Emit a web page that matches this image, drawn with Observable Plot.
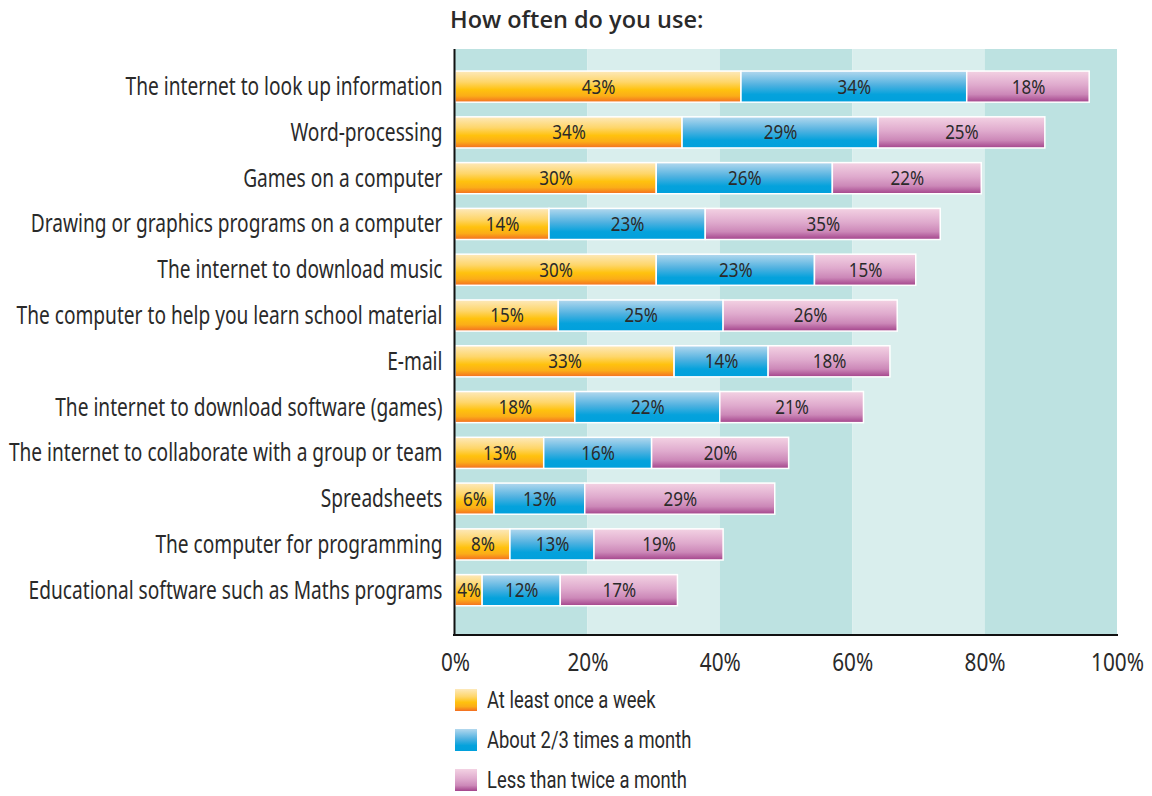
<!DOCTYPE html>
<html>
<head>
<meta charset="utf-8">
<script src="https://cdn.jsdelivr.net/npm/d3@7"></script>
<script src="https://cdn.jsdelivr.net/npm/@observablehq/plot@0.6"></script>
<style>
  body { margin: 0; background: #fff; width: 1152px; height: 796px; overflow: hidden; position: relative; }
  .cond { font-family: Roboto, "Liberation Sans", sans-serif; }
  #title { position: absolute; left: 450px; top: 3px; font-family: "Open Sans", "Noto Sans", sans-serif; font-weight: 600; font-size: 23.5px; color: #2a2a2a; }
  #chart { position: absolute; left: 0; top: 44px; }
  #legend { position: absolute; left: 455px; top: 689px; font-size: 23px; color: #2a2a2a; }
  .item { display: flex; align-items: center; height: 22px; margin-bottom: 18px; }
  .sw { width: 22px; height: 22px; margin-right: 10px; flex: none; }
  .item span { display: inline-block; transform: scaleX(0.8); transform-origin: left center; white-space: nowrap; }
</style>
</head>
<body>
<div id="title">How often do you use:</div>
<div id="chart" class="cond"></div>
<div id="legend" class="cond"></div>
<script>
const categories = [
  "The internet to look up information",
  "Word-processing",
  "Games on a computer",
  "Drawing or graphics programs on a computer",
  "The internet to download music",
  "The computer to help you learn school material",
  "E-mail",
  "The internet to download software (games)",
  "The internet to collaborate with a group or team",
  "Spreadsheets",
  "The computer for programming",
  "Educational software such as Maths programs"
];
const seriesNames = ["At least once a week", "About 2/3 times a month", "Less than twice a month"];
const weekly  = [43.2, 34.3, 30.4, 14.2, 30.4, 15.6, 33.1, 18.1, 13.4, 5.9, 8.3, 4.1];
const monthly = [34.1, 29.6, 26.6, 23.6, 23.9, 24.9, 14.2, 21.9, 16.3, 13.7, 12.7, 11.8];
const rarely  = [18.5, 25.2, 22.5, 35.5, 15.3, 26.3, 18.4, 21.7, 20.7, 28.7, 19.5, 17.7];
const weeklyLabels  = ["43%","34%","30%","14%","30%","15%","33%","18%","13%","6%","8%","4%"];
const monthlyLabels = ["34%","29%","26%","23%","23%","25%","14%","22%","16%","13%","13%","12%"];
const rarelyLabels  = ["18%","25%","22%","35%","15%","26%","18%","21%","20%","29%","19%","17%"];
const xTicks = [0, 20, 40, 60, 80, 100];

const gradIds = ["gWeek", "gMonth", "gRare"];
const gradStops = [
  [[0, "#fde9bb"], [0.35, "#fed66a"], [0.6, "#ffc20e"], [0.8, "#fbad18"], [1, "#f36d21"]],
  [[0, "#b3d8ee"], [0.45, "#4fb1e0"], [0.75, "#05a2dc"], [1, "#00a0dc"]],
  [[0, "#f3d2e3"], [0.45, "#dfaacd"], [0.75, "#cc88b8"], [1, "#a3438b"]]
];
const bandFills = ["#bde2e1", "#d9eeed"];

const series = [weekly, monthly, rarely];
const labels = [weeklyLabels, monthlyLabels, rarelyLabels];
const table = [];
categories.forEach((c, i) => {
  seriesNames.forEach((s, k) => {
    table.push({category: c, series: s, value: series[k][i], label: labels[k][i]});
  });
});
const bands = xTicks.slice(0, -1).map((t, i) => ({x1: t, x2: xTicks[i + 1], fill: bandFills[i % 2]}));

const plot = Plot.plot({
  width: 1152,
  height: 640,
  marginTop: 5,
  marginBottom: 49,
  marginLeft: 455,
  marginRight: 35,
  style: {fontSize: "25px", color: "#2a2a2a", background: "transparent"},
  x: {domain: [0, 100], ticks: xTicks, tickFormat: d => d + "%", tickSize: 0, tickPadding: 18, label: null},
  y: {domain: categories, round: false, paddingInner: 0.32, paddingOuter: 0.56, align: 0.43, tickSize: 0, tickPadding: 13, label: null},
  color: {type: "ordinal", domain: seriesNames, range: gradIds.map(id => `url(#${id})`)},
  marks: [
    Plot.rect(bands, {x1: "x1", x2: "x2", fill: "fill"}),
    Plot.barX(table, Plot.stackX({x: "value", y: "category", fill: "series", stroke: "white", strokeWidth: 1.5})),
    Plot.text(table, Plot.stackX({x: "value", y: "category", text: "label", fill: "#2a2a2a", fontSize: 20})),
    Plot.ruleX([0], {stroke: "#111", strokeWidth: 2, dx: -1}),
    (index, scales, values, dimensions) => {
      const {width, height, marginLeft, marginRight, marginBottom} = dimensions;
      return d3.create("svg:line")
        .attr("x1", marginLeft - 2).attr("x2", width - marginRight + 1)
        .attr("y1", height - marginBottom).attr("y2", height - marginBottom)
        .attr("stroke", "#111").attr("stroke-width", 2).node();
    }
  ]
});

const defs = d3.select(plot).insert("defs", ":first-child");
gradIds.forEach((id, k) => {
  const g = defs.append("linearGradient").attr("id", id).attr("x1", 0).attr("y1", 0).attr("x2", 0).attr("y2", 1);
  gradStops[k].forEach(([o, c]) => g.append("stop").attr("offset", o).attr("stop-color", c));
});
document.getElementById("chart").appendChild(plot);

// condensed look: squeeze glyphs horizontally
function condense(sel, factor) {
  sel.each(function () {
    const w = this.getComputedTextLength();
    if (w > 0) {
      this.setAttribute("textLength", (w * factor).toFixed(1));
      this.setAttribute("lengthAdjust", "spacingAndGlyphs");
    }
  });
}
const svg = d3.select(plot);
condense(svg.selectAll('g[aria-label="y-axis tick label"] text'), 0.765);
condense(svg.selectAll('g[aria-label="x-axis tick label"] text'), 0.83);
condense(svg.selectAll('g[aria-label="text"] text'), 0.85);

const legend = d3.select("#legend");
seriesNames.forEach((s, k) => {
  const item = legend.append("div").attr("class", "item");
  const css = "linear-gradient(to bottom, " + gradStops[k].map(([o, c]) => `${c} ${o * 100}%`).join(", ") + ")";
  item.append("div").attr("class", "sw").style("background", css);
  item.append("span").text(s);
});
</script>
</body>
</html>
